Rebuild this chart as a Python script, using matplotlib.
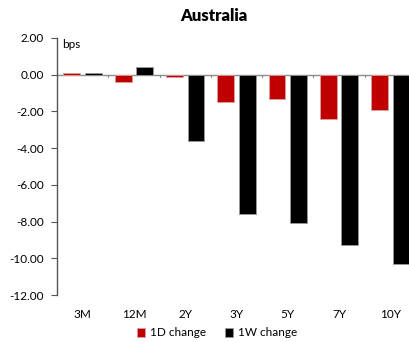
import matplotlib
matplotlib.use("Agg")
import matplotlib.pyplot as plt
import numpy as np

plt.rcParams['font.family'] = ['Lato', 'DejaVu Sans']

tenors = ["3M", "12M", "2Y", "3Y", "5Y", "7Y", "10Y"]
change_1d = [0.10, -0.40, -0.10, -1.50, -1.30, -2.40, -1.90]
change_1w = [0.10, 0.40, -3.60, -7.60, -8.10, -9.30, -10.30]
y_ticks = [2.0, 0.0, -2.0, -4.0, -6.0, -8.0, -10.0, -12.0]

W, H = 409, 342
fig = plt.figure(figsize=(W / 100, H / 100), dpi=100)
ax = fig.add_axes([57 / W, 1 - 295 / H, 359 / W, (295 - 38) / H])

x = np.arange(len(tenors))
bw = 0.33
ax.bar(x - 0.21, change_1d, bw, color="#C00000", edgecolor="#D9A0A0", linewidth=0.6,
       label="1D change", zorder=3)
ax.bar(x + 0.21, change_1w, bw, color="#000000", edgecolor="#9A9A9A", linewidth=0.6,
       label="1W change", zorder=3)

ax.set_xlim(-0.5, len(tenors) - 0.5)
ax.set_ylim(-12, 2)
ax.set_yticks(y_ticks)
ax.set_yticklabels([f"{v:.2f}" for v in y_ticks], fontsize=8.5)

# zero line with category ticks; labels sit at the bottom of the plot
ax.axhline(0, color="#8C8C8C", linewidth=1.0, zorder=2)
for b in np.arange(0.5, len(tenors) - 0.5, 1.0):
    ax.plot([b, b], [0, -0.15], color="#8C8C8C", linewidth=0.8, zorder=2)
ax.set_xticks(x)
ax.set_xticklabels(tenors, fontsize=8.5)
ax.tick_params(axis="x", length=0, pad=10)
ax.tick_params(axis="y", length=4.5, width=0.8, color="#555555", pad=5)

for side in ["top", "right", "bottom"]:
    ax.spines[side].set_visible(False)
ax.spines["left"].set_color("#555555")
ax.spines["left"].set_linewidth(1.0)

ax.text(0.015, 0.995, "bps", transform=ax.transAxes, fontsize=8.5, va="top", ha="left")

fig.text(214 / W, 1 - 16 / H, "Australia", fontsize=12, fontweight="heavy",
         ha="center", va="center")

fig.legend(loc="center", bbox_to_anchor=(217 / W, 1 - 333 / H), ncol=2, frameon=False,
           fontsize=8.5, handlelength=0.7, handleheight=0.7, handletextpad=0.4,
           columnspacing=1.6)

fig.savefig("out.png", dpi=100)
